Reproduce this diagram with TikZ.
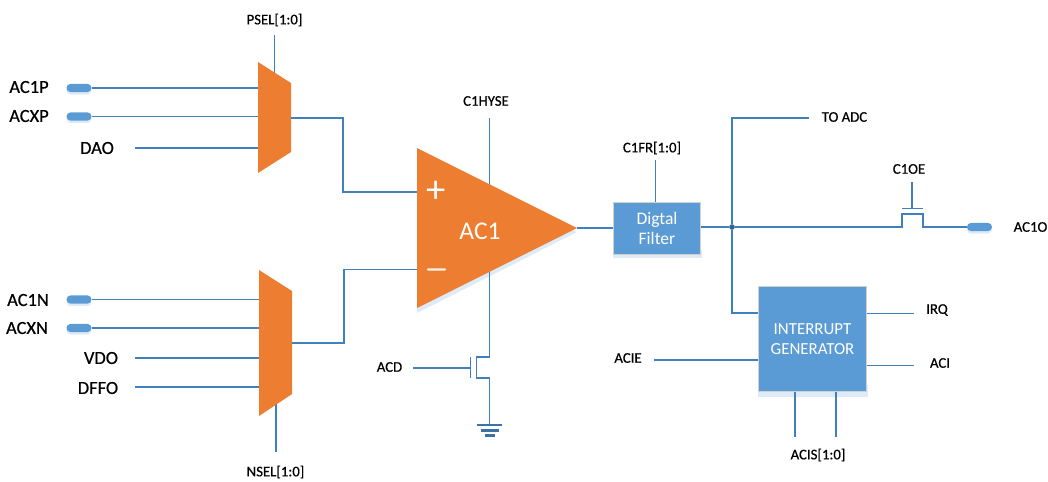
\documentclass[tikz,border=0pt]{standalone}
\usepackage{fontspec}
\setmainfont[RawFeature={embolden=0.6}]{Carlito}
\newfontfamily\thinfont{Carlito}
\usepackage{xcolor}
\definecolor{wireblue}{HTML}{3F80BD}
\definecolor{boxblue}{HTML}{5B9BD5}
\definecolor{muxorange}{HTML}{ED7D31}
\definecolor{shadeblue}{HTML}{DEEAF6}
\tikzset{
  wire/.style={wireblue, line width=0.7pt},
  bigtag/.style={font=\fontsize{10.5}{11}\selectfont, inner sep=0pt, text=black},
  smalltag/.style={font=\fontsize{8.4}{9}\selectfont, inner sep=0pt, text=black},
  padpin/.style={fill=boxblue, rounded corners=2.2pt, minimum width=14.2pt, minimum height=4.6pt, inner sep=0pt},
  padshade/.style={fill=shadeblue, rounded corners=2.2pt, minimum width=14.2pt, minimum height=4.6pt, inner sep=0pt},
  block/.style={fill=boxblue, draw=black!18, line width=0.5pt, text=white, align=center, inner sep=0pt},
  pt/.style={inner sep=0pt, minimum size=0pt}
}
\begin{document}
\begin{tikzpicture}[x=0.02cm, y=-0.02cm]
  \useasboundingbox (0,0) rectangle (1048,481);
  % input pads
  \foreach \nm/\y in {acip/88, acxp/116.5, acin/299.5, acxn/328}{
    \node[padshade] at (79,\y+2.5) {};
    \node[padpin] (\nm) at (79,\y) {};
  }
  % input tags
  \node[bigtag] (tacip) at (29,87) {AC1P};
  \node[bigtag] (tacxp) at (29,116) {ACXP};
  \node[bigtag] (tdao) at (97,148) {DAO};
  \node[bigtag] (tacin) at (28,300) {AC1N};
  \node[bigtag] (tacxn) at (27,328) {ACXN};
  \node[bigtag] (tvdo) at (101,358) {VDO};
  \node[bigtag] (tdffo) at (98,388) {DFFO};
  % free wire ends
  \coordinate (dao) at (135,148);
  \coordinate (vdo) at (135,358);
  \coordinate (dffo) at (135,387);
  \coordinate (psel) at (274.5,35);
  \coordinate (nsel) at (276,452);
  % wires under the muxes
  \draw[wire] (acip) -- (258,88);
  \draw[wire] (acxp) -- (258,116.5);
  \draw[wire] (dao) -- (258,148);
  \draw[wire] (acin) -- (259,299.5);
  \draw[wire] (acxn) -- (259,328);
  \draw[wire] (vdo) -- (259,358);
  \draw[wire] (dffo) -- (259,387);
  \draw[wire] (psel) -- (274.5,75);
  \draw[wire] (nsel) -- (276,400);
  \node[smalltag] (tpsel) at (274.5,20) {PSEL[1:0]};
  \node[smalltag] (tnsel) at (275.5,472) {NSEL[1:0]};
  % muxes
  \fill[muxorange] (258,62) -- (291,83) -- (291,152) -- (258,173) -- cycle;
  \fill[muxorange] (259,270) -- (292,291) -- (292,394) -- (259,416) -- cycle;
  % comparator
  \fill[shadeblue] (417,152) -- (577,232) -- (417,313) -- cycle;
  \draw[wire] (291,118) -- (343,118) -- (343,192) -- (417,192);
  \draw[wire] (292,343) -- (344,343) -- (344,269.5) -- (417,269.5);
  \coordinate (hyse) at (489.5,118);
  \draw[wire] (hyse) -- (489.5,192);
  \draw[wire] (489.5,268) -- (489.5,357) -- (476.5,357) -- (476.5,378) -- (489.5,378) -- (489.5,425);
  \fill[muxorange] (417,148) -- (577,228) -- (417,308) -- cycle;
  \node[pt] (cmpout) at (577,228) {};
  \node[font=\thinfont\fontsize{22}{22}\selectfont, text=white, inner sep=0pt] (tplus) at (436.5,192) {+};
  \fill[white!90!muxorange, rounded corners=0.5pt] (427,268.3) rectangle (446,270.6);
  \node[font=\thinfont\fontsize{14.5}{16}\selectfont, text=white, inner sep=0pt] (tacone) at (480,231) {AC1};
  \node[smalltag] (thyse) at (486,101) {C1HYSE};
  % discharge switch and ground
  \coordinate (acd) at (413,368);
  \draw[wire] (acd) -- (470.5,368);
  \draw[wire] (470.5,357) -- (470.5,378);
  \node[smalltag] (tacd) at (389.5,367) {ACD};
  \foreach \xa/\xb/\y/\wd in {477/502/425/1.4pt, 481/498.5/430.5/1.2pt, 485/494.5/435.5/1.2pt}{
    \draw[wireblue!90!black, line width=\wd] (\xa,\y) -- (\xb,\y);
  }
  % digital filter
  \fill[shadeblue] (613,250) rectangle (702,258);
  \node[block, minimum width=49.9pt, minimum height=30pt, font=\thinfont\fontsize{10}{11.4}\selectfont] (filt) at (657,228.5) {Digtal\\Filter};
  \draw[wire] (cmpout) -- (filt.west |- cmpout);
  \coordinate (cfr) at (655.5,160);
  \draw[wire] (cfr) -- (filt.north -| cfr);
  \node[smalltag] (tcfr) at (652,148) {C1FR[1:0]};
  % output line
  \node[circle, fill=wireblue!80!black, inner sep=0pt, minimum size=3.2pt] (jct) at (732,227) {};
  \draw[wire] (filt.east |- jct) -- (jct);
  \node[padshade] at (979.5,229.5) {};
  \node[padpin] (acout) at (979.5,227) {};
  \draw[wire] (jct) -- (902,227) -- (902,214) -- (923,214) -- (923,227) -- (acout);
  \coordinate (oe) at (912,182);
  \draw[wire] (oe) -- (912,208);
  \draw[wire] (902,208.5) -- (923,208.5);
  \node[smalltag] (toe) at (909,169) {C1OE};
  \node[smalltag] (tacout) at (1030.5,227) {AC1O};
  % to adc
  \coordinate (adc) at (809,118);
  \draw[wire] (jct) -- (732,118) -- (adc);
  \node[smalltag] (tadc) at (844.5,117) {TO ADC};
  % interrupt generator
  \fill[shadeblue] (758,385) rectangle (868,397);
  \node[block, minimum width=61.8pt, minimum height=60pt, font=\thinfont\fontsize{9.6}{11.4}\selectfont] (intr) at (812.5,339) {INTERRUPT\\GENERATOR};
  \draw[wire] (jct) -- (732,313) -- (intr.west |- 0,313);
  \coordinate (acie) at (654,360);
  \draw[wire] (acie) -- (intr.west |- acie);
  \node[smalltag] (tacie) at (628,358) {ACIE};
  \coordinate (irq) at (914,313.5);
  \coordinate (aci) at (914,365.5);
  \draw[wire] (intr.east |- irq) -- (irq);
  \draw[wire] (intr.east |- aci) -- (aci);
  \node[smalltag] (tirq) at (937,310) {IRQ};
  \node[smalltag] (taci) at (940,363) {ACI};
  \coordinate (acisa) at (795,437);
  \coordinate (acisb) at (836,437);
  \draw[wire] (intr.south -| acisa) -- (acisa);
  \draw[wire] (intr.south -| acisb) -- (acisb);
  \node[smalltag] (tacis) at (818,455) {ACIS[1:0]};
\end{tikzpicture}
\end{document}
